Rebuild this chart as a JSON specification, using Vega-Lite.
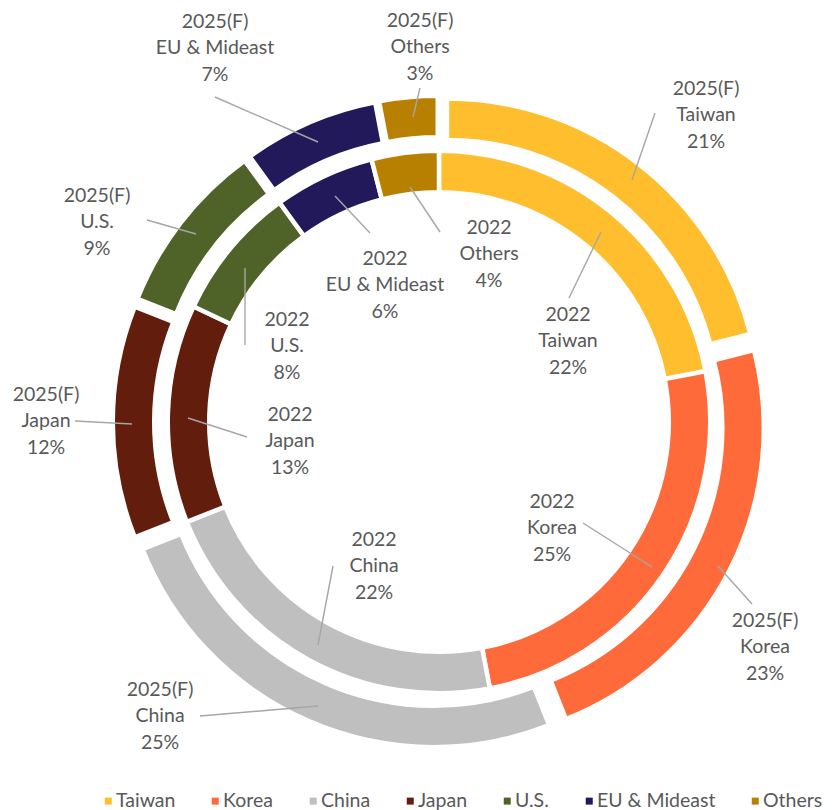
{
  "$schema": "https://vega.github.io/schema/vega-lite/v6.json",
  "width": 802,
  "height": 776,
  "padding": {"left": 38, "top": 34, "right": 0, "bottom": 0},
  "autosize": {"type": "none"},
  "config": {"view": {"stroke": null}},
  "data": {
    "values": [
      {"year": "2022", "region": "Taiwan", "share": 22, "lx": 129, "ly": 81, "x1": 130, "y1": 124, "x2": 162, "y2": 190},
      {"year": "2022", "region": "Korea", "share": 25, "lx": 113, "ly": -106, "x1": 144, "y1": -101, "x2": 213, "y2": -145},
      {"year": "2022", "region": "China", "share": 22, "lx": -65, "ly": -144, "x1": -106, "y1": -144, "x2": -121, "y2": -223},
      {"year": "2022", "region": "Japan", "share": 13, "lx": -149, "ly": -19, "x1": -192, "y1": -15, "x2": -251, "y2": 4},
      {"year": "2022", "region": "U.S.", "share": 8, "lx": -152, "ly": 76, "x1": -194, "y1": 77, "x2": -194, "y2": 154},
      {"year": "2022", "region": "EU & Mideast", "share": 6, "lx": -54, "ly": 137, "x1": -69, "y1": 189, "x2": -104, "y2": 226},
      {"year": "2022", "region": "Others", "share": 4, "lx": 50, "ly": 168, "x1": 1, "y1": 190, "x2": -29, "y2": 235},
      {"year": "2025(F)", "region": "Taiwan", "share": 21, "lx": 267, "ly": 307, "x1": 216, "y1": 309, "x2": 193, "y2": 242},
      {"year": "2025(F)", "region": "Korea", "share": 23, "lx": 326, "ly": -225, "x1": 313, "y1": -182, "x2": 279, "y2": -144},
      {"year": "2025(F)", "region": "China", "share": 25, "lx": -279, "ly": -294, "x1": -239, "y1": -294, "x2": -121, "y2": -284},
      {"year": "2025(F)", "region": "Japan", "share": 12, "lx": -393, "ly": 1, "x1": -364, "y1": 1, "x2": -307, "y2": -2},
      {"year": "2025(F)", "region": "U.S.", "share": 9, "lx": -342, "ly": 200, "x1": -292, "y1": 202, "x2": -243, "y2": 188},
      {"year": "2025(F)", "region": "EU & Mideast", "share": 7, "lx": -224, "ly": 374, "x1": -224, "y1": 325, "x2": -121, "y2": 280},
      {"year": "2025(F)", "region": "Others", "share": 3, "lx": -19, "ly": 375, "x1": -19, "y1": 334, "x2": -26, "y2": 305}
    ]
  },
  "layer": [
    {
      "transform": [
        {"filter": "datum.year == '2022'"},
        {"stack": "share", "groupby": ["year"], "as": ["s0", "s1"]}
      ],
      "mark": {"type": "arc", "innerRadius": 229.75, "outerRadius": 271.25, "stroke": "white", "strokeWidth": 4.5},
      "encoding": {
        "theta": {"field": "s0", "type": "quantitative", "stack": null, "scale": {"domain": [0, 100]}},
        "theta2": {"field": "s1"},
        "x": {"datum": 0, "type": "quantitative", "scale": {"domain": [-401, 401], "zero": false, "nice": false}, "axis": null},
        "y": {"datum": 0, "type": "quantitative", "scale": {"domain": [-388, 388], "zero": false, "nice": false}, "axis": null},
        "color": {
          "field": "region", "type": "nominal",
          "scale": {
            "domain": ["Taiwan", "Korea", "China", "Japan", "U.S.", "EU & Mideast", "Others"],
            "range": ["#FFBE2D", "#FF6A3A", "#BFBFBF", "#631D0D", "#4F6228", "#22195A", "#B78000"]
          },
          "legend": {
            "orient": "none", "legendX": 60.5, "legendY": 757, "direction": "horizontal", "columns": 7,
            "title": null, "symbolType": "square", "symbolSize": 49, "symbolStrokeWidth": 0,
            "labelFont": "Lato", "labelFontSize": 19.5, "labelColor": "#595959", "labelOffset": -2,
            "columnPadding": 30, "padding": 0
          }
        }
      }
    },
    {
      "transform": [
        {"filter": "datum.year == '2025(F)'"},
        {"stack": "share", "groupby": ["year"], "as": ["s0", "s1"]},
        {"calculate": "(datum.s0 + datum.s1) / 2 * PI / 50", "as": "mid"},
        {"calculate": "13 * sin(datum.mid)", "as": "ex"},
        {"calculate": "13 * cos(datum.mid)", "as": "ey"}
      ],
      "mark": {"type": "arc", "innerRadius": 271.75, "outerRadius": 313.25, "stroke": "white", "strokeWidth": 4.5},
      "encoding": {
        "theta": {"field": "s0", "type": "quantitative", "stack": null},
        "theta2": {"field": "s1"},
        "x": {"field": "ex", "type": "quantitative", "stack": null},
        "y": {"field": "ey", "type": "quantitative", "stack": null},
        "color": {"field": "region", "type": "nominal"}
      }
    },
    {
      "mark": {"type": "rule", "color": "#A6A6A6", "strokeWidth": 1.4},
      "encoding": {
        "x": {"field": "x1", "type": "quantitative"},
        "y": {"field": "y1", "type": "quantitative"},
        "x2": {"field": "x2"},
        "y2": {"field": "y2"}
      }
    },
    {
      "transform": [
        {"calculate": "datum.year + '\\n' + datum.region + '\\n' + datum.share + '%'", "as": "label"}
      ],
      "mark": {"type": "text", "font": "Lato", "fontSize": 19.5, "color": "#595959", "align": "center", "baseline": "middle", "lineBreak": "\n", "lineHeight": 26.5, "dy": -26.5},
      "encoding": {
        "x": {"field": "lx", "type": "quantitative"},
        "y": {"field": "ly", "type": "quantitative"},
        "text": {"field": "label", "type": "nominal"}
      }
    }
  ]
}
